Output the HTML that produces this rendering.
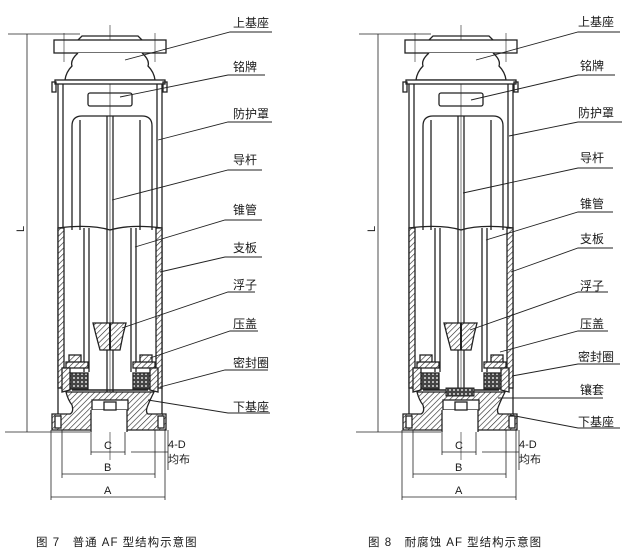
<!DOCTYPE html>
<html><head><meta charset="utf-8"><style>
html,body{margin:0;padding:0;background:#fff}
svg{display:block}
text{font-family:"Liberation Sans","Noto Sans CJK SC",sans-serif;fill:#1a1a1a}
</style></head><body>
<svg width="630" height="559" viewBox="0 0 630 559" xmlns="http://www.w3.org/2000/svg">
<defs>
<pattern id="h" width="4" height="4" patternUnits="userSpaceOnUse" patternTransform="rotate(45)">
<rect width="4" height="4" fill="#fff"/><line x1="0" y1="0" x2="0" y2="4" stroke="#222" stroke-width="1.2"/></pattern>
<pattern id="x" width="4" height="4" patternUnits="userSpaceOnUse">
<rect width="4" height="4" fill="#444"/><circle cx="2" cy="2" r="1" fill="#ddd"/></pattern>
<g id="fig" fill="none" stroke="#222" stroke-width="1.3">
<line x1="8" y1="34" x2="80" y2="34" stroke-width="0.8"/>
<line x1="5" y1="432" x2="90" y2="432" stroke-width="0.8"/>
<line x1="27" y1="34" x2="27" y2="432" stroke-width="0.8"/>
<line x1="110" y1="25" x2="110" y2="460" stroke-width="0.6"/>
<path d="M78 40 L82 36 L138 36 L142 40" />
<rect x="54" y="40" width="112" height="13" fill="#fff"/>
<path d="M78 53 Q70 60 72 66 Q66 72 65 80 L155 80 Q154 72 148 66 Q150 60 142 53" fill="#fff"/>
<line x1="64" y1="33" x2="64" y2="62" stroke-width="0.6"/><line x1="155" y1="33" x2="155" y2="62" stroke-width="0.6"/>
<rect x="55" y="80" width="110" height="4" fill="#fff"/>
<rect x="52" y="82" width="4" height="10"/><rect x="163" y="82" width="4" height="10"/>
<line x1="58" y1="84" x2="58" y2="420"/><line x1="162" y1="84" x2="162" y2="420"/>
<line x1="63" y1="84" x2="63" y2="230"/><line x1="157" y1="84" x2="157" y2="230"/>
<rect x="88" y="93" width="44" height="13" rx="2"/>
<path d="M72 230 L72 126 Q72 116 82 116 L142 116 Q152 116 152 126 L152 230"/>
<line x1="80" y1="120" x2="80" y2="230"/><line x1="140" y1="120" x2="140" y2="230"/>
<path d="M58 228 Q90 224 110 230 Q130 224 162 228"/>
<line x1="107" y1="116" x2="107" y2="400"/><line x1="113" y1="116" x2="113" y2="400"/>
<rect x="58" y="228" width="6" height="160" fill="url(#h)"/>
<rect x="156" y="228" width="6" height="160" fill="url(#h)"/>
<line x1="84" y1="228" x2="84" y2="372"/><line x1="89" y1="228" x2="89" y2="372"/>
<line x1="131" y1="228" x2="131" y2="372"/><line x1="136" y1="228" x2="136" y2="372"/>
<path d="M93 323 L126 323 L123 335 L120 350 L100 350 L96 335 Z" fill="url(#h)"/>
<line x1="110" y1="323" x2="110" y2="350" stroke-width="2"/>
<rect x="69" y="355" width="12" height="8" fill="url(#h)"/><rect x="140" y="355" width="12" height="8" fill="url(#h)"/>
<rect x="66" y="362" width="22" height="6" fill="url(#h)"/><rect x="133" y="362" width="22" height="6" fill="url(#h)"/>
<rect x="70" y="373" width="18" height="16" fill="url(#x)"/><rect x="133" y="373" width="18" height="16" fill="url(#x)"/>
<line x1="72" y1="390" x2="148" y2="390" stroke-width="1.6"/>
<path d="M62 368 L70 368 L70 390 L62 392 Z" fill="url(#h)"/>
<path d="M158 368 L150 368 L150 390 L158 392 Z" fill="url(#h)"/>
<path d="M66 392 L154 392 Q150 400 148 405 Q145 412 148 414 L166 414 L166 430 L52 430 L52 414 L70 414 Q74 412 72 405 Q68 400 66 392 Z" fill="url(#h)"/>
<rect x="92" y="400" width="36" height="10" fill="#fff"/>
<rect x="91" y="410" width="36" height="22" fill="#fff" stroke="none"/>
<line x1="91" y1="410" x2="91" y2="432"/><line x1="127" y1="410" x2="127" y2="432"/>
<rect x="104" y="402" width="12" height="8" fill="#fff"/>
<rect x="55" y="416" width="6" height="12" fill="#fff"/><rect x="158" y="416" width="6" height="12" fill="#fff"/>
<g stroke-width="0.8">
<line x1="91" y1="432" x2="91" y2="455"/><line x1="125" y1="432" x2="125" y2="455"/>
<line x1="91" y1="452" x2="125" y2="452"/><line x1="131" y1="452" x2="168" y2="452"/>
<line x1="62" y1="430" x2="62" y2="478"/><line x1="155" y1="430" x2="155" y2="478"/>
<line x1="62" y1="474" x2="155" y2="474"/>
<line x1="51" y1="430" x2="51" y2="500"/><line x1="165" y1="430" x2="165" y2="500"/>
<line x1="51" y1="497" x2="165" y2="497"/>
<line x1="168" y1="430" x2="168" y2="470"/>
</g>
</g>
</defs>
<use href="#fig"/>
<use href="#fig" transform="translate(351,0)"/>
<rect x="446" y="388" width="28" height="8" fill="url(#x)" stroke="#222"/>
<g stroke="#222" stroke-width="0.9" fill="none">
<polyline points="125,60 230,32 272,32"/>
<polyline points="120,97 228,75 265,75"/>
<polyline points="158,140 228,122 272,122"/>
<polyline points="112,200 228,170 262,170"/>
<polyline points="135,247 225,220 262,220"/>
<polyline points="160,272 225,257 262,257"/>
<polyline points="122,328 228,292 255,292"/>
<polyline points="150,358 230,331 258,331"/>
<polyline points="160,387 225,370 268,370"/>
<polyline points="148,400 228,413 270,413"/>
<polyline points="476,60 578,32 620,32"/>
<polyline points="471,100 578,75 615,75"/>
<polyline points="509,136 578,122 622,122"/>
<polyline points="463,193 578,168 613,168"/>
<polyline points="486,240 578,212 613,212"/>
<polyline points="511,272 578,248 613,248"/>
<polyline points="470,330 578,292 608,292"/>
<polyline points="500,352 578,331 608,331"/>
<polyline points="512,376 578,364 620,364"/>
<polyline points="498,398 578,398 603,398"/>
<polyline points="510,415 578,428 620,428"/>
</g>
<g font-size="12">
<text x="233" y="27">上基座</text><text x="233" y="71">铭牌</text><text x="233" y="118">防护罩</text>
<text x="233" y="164">导杆</text><text x="233" y="214">锥管</text><text x="233" y="252">支板</text>
<text x="233" y="289">浮子</text><text x="233" y="328">压盖</text><text x="233" y="367">密封圈</text>
<text x="233" y="411">下基座</text>
<text x="578" y="26">上基座</text><text x="580" y="70">铭牌</text><text x="578" y="117">防护罩</text>
<text x="580" y="162">导杆</text><text x="580" y="208">锥管</text><text x="580" y="243">支板</text>
<text x="580" y="290">浮子</text><text x="580" y="328">压盖</text><text x="578" y="361">密封圈</text>
<text x="580" y="394">镶套</text><text x="578" y="426">下基座</text>
</g>
<g font-size="11">
<text x="104" y="449">C</text><text x="104" y="471">B</text><text x="104" y="494">A</text>
<text x="168" y="448">4-D</text><text x="168" y="463">均布</text>
<text x="455" y="449">C</text><text x="455" y="471">B</text><text x="455" y="494">A</text>
<text x="519" y="448">4-D</text><text x="519" y="463">均布</text>
<text x="16" y="232" transform="rotate(-90 20 228)">L</text>
<text x="367" y="232" transform="rotate(-90 371 228)">L</text>
</g>
<g font-size="11.5" letter-spacing="1">
<text x="36" y="546">图 7　普通 AF 型结构示意图</text>
<text x="368" y="546">图 8　耐腐蚀 AF 型结构示意图</text>
</g>
</svg>
</body></html>
